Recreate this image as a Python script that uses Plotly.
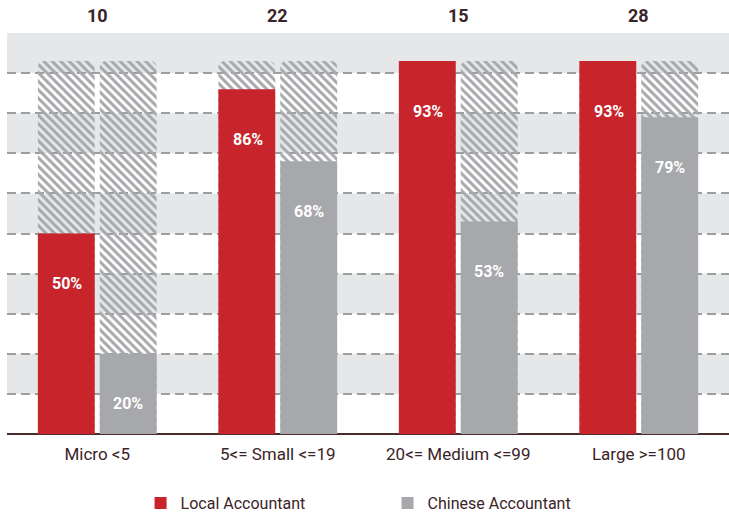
import plotly.graph_objects as go

# Firm-size categories and respondent counts per category
categories = ["Micro <5", "5<= Small <=19", "20<= Medium <=99", "Large >=100"]
counts = [10, 22, 15, 28]

# Share of firms using each type of accountant (%)
local_pct = [50, 86, 93, 93]
chinese_pct = [20, 68, 53, 79]

# Hatched backdrop height shared by every column
backdrop_pct = [93, 93, 93, 93]

RED = "#c8242c"
GRAY = "#a7a8ab"
BAND = "#e6e7e8"
TEXT = "#3b2427"
FONT = "Roboto, Arial, sans-serif"

BAR_W = 0.315
LOCAL_OFF = -0.329
CHINESE_OFF = 0.014

fig = go.Figure()

# Hatched backdrop columns (rounded tops, see-through gaps) behind each bar
for off in (LOCAL_OFF, CHINESE_OFF):
    fig.add_trace(go.Bar(
        x=categories, y=backdrop_pct, width=BAR_W, offset=off,
        marker=dict(color=GRAY, line=dict(width=0), cornerradius=6,
                    pattern=dict(shape="\\", fgcolor=GRAY, bgcolor="rgba(0,0,0,0)",
                                 size=6, solidity=0.5, fillmode="replace")),
        showlegend=False, hoverinfo="skip",
    ))

fig.add_trace(go.Bar(
    x=categories, y=local_pct, width=BAR_W, offset=LOCAL_OFF,
    name="Local Accountant", marker=dict(color=RED, line=dict(width=0)),
))
fig.add_trace(go.Bar(
    x=categories, y=chinese_pct, width=BAR_W, offset=CHINESE_OFF,
    name="Chinese Accountant", marker=dict(color=GRAY, line=dict(width=0)),
))

# Alternating horizontal bands
shapes = []
for lo in range(10, 100, 20):
    shapes.append(dict(type="rect", xref="paper", yref="y", x0=0, x1=1,
                       y0=lo, y1=lo + 10, fillcolor=BAND, line=dict(width=0),
                       layer="below"))

annotations = []
# Percentage labels inside bars
for i, c in enumerate(categories):
    annotations.append(dict(x=c, y=local_pct[i] - 12.5, xref="x", yref="y",
                            text=f"<b>{local_pct[i]}%</b>", showarrow=False,
                            xshift=-30, font=dict(family=FONT, size=16, color="white")))
    annotations.append(dict(x=c, y=chinese_pct[i] - 12.5, xref="x", yref="y",
                            text=f"<b>{chinese_pct[i]}%</b>", showarrow=False,
                            xshift=31, font=dict(family=FONT, size=16, color="white")))
    # Respondent counts above each group
    annotations.append(dict(x=c, y=1, xref="x", yref="paper", yanchor="bottom",
                            yshift=5, text=f"<b>{counts[i]}</b>", showarrow=False,
                            font=dict(family=FONT, size=18, color=TEXT)))

fig.update_layout(
    width=729, height=513,
    margin=dict(l=7, r=0, t=33, b=79, autoexpand=False),
    barmode="overlay",
    plot_bgcolor="white", paper_bgcolor="white",
    shapes=shapes, annotations=annotations,
    font=dict(family=FONT, size=15, color=TEXT),
    showlegend=True,
    legend=dict(orientation="h", x=0.185, xref="paper",
                y=0.0195, yref="container", xanchor="left", yanchor="middle",
                entrywidth=202, entrywidthmode="pixels",
                font=dict(family=FONT, size=16, color=TEXT), traceorder="normal"),
    xaxis=dict(range=[-0.5, 3.5], showgrid=False, ticks="", showline=False,
               automargin=False,
               tickfont=dict(family=FONT, size=17, color=TEXT), ticklabelstandoff=8),
    yaxis=dict(range=[0, 100], tick0=0, dtick=10, showticklabels=False,
               automargin=False,
               showgrid=True, gridcolor="#9d9ea0", gridwidth=2,
               griddash="9px,5px", zeroline=True, zerolinecolor="#4a2c2e",
               zerolinewidth=2),
)

fig.write_html("out.html")
